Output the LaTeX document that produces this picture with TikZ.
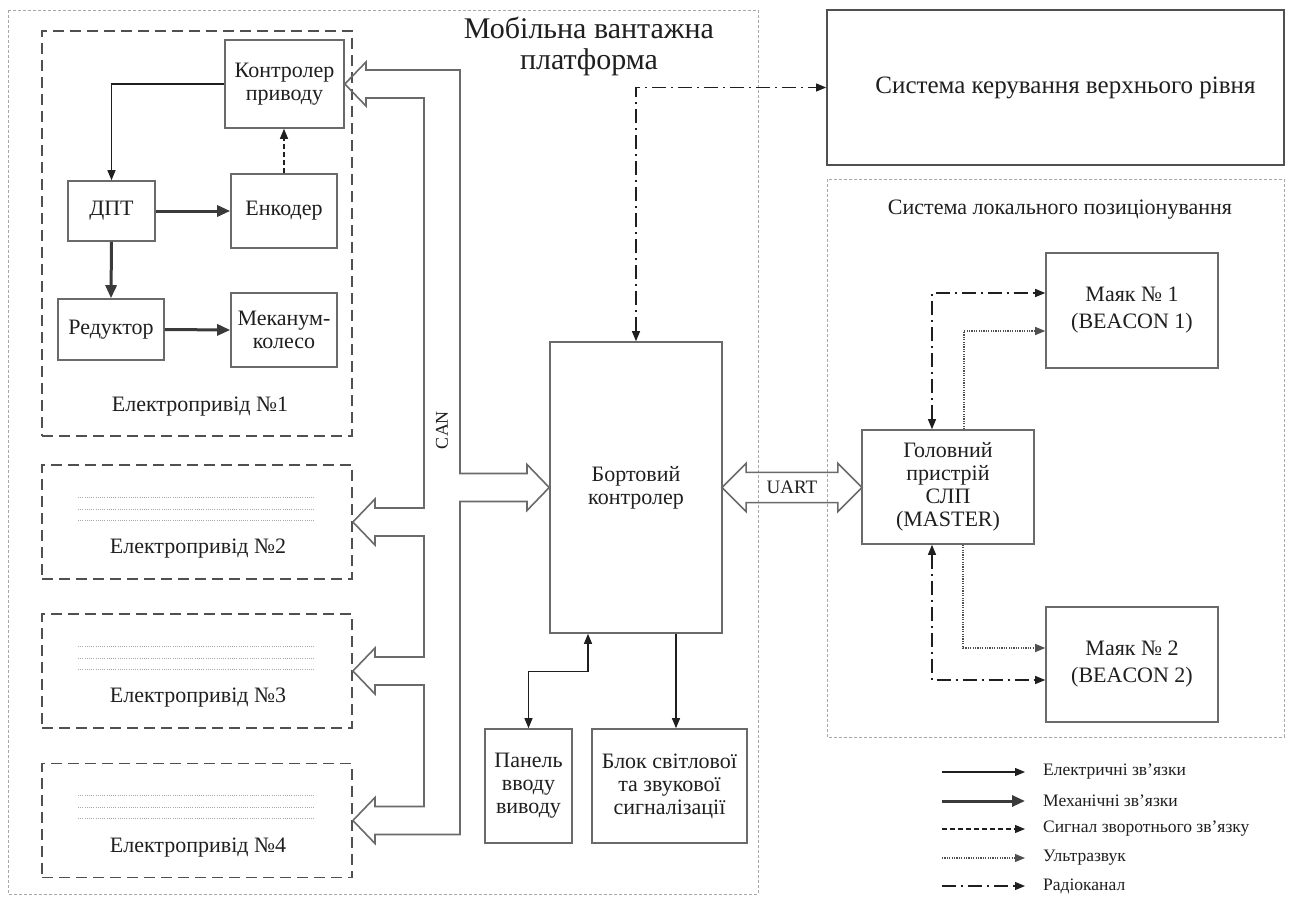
\documentclass[tikz,border=0pt]{standalone}
\usepackage{fontspec}
\setmainfont{Liberation Serif}
\usetikzlibrary{arrows.meta,calc,shapes.arrows}
\definecolor{linegray}{HTML}{505050}
\definecolor{boxgray}{HTML}{6A6A6A}
\definecolor{framegray}{HTML}{A8A8A8}
\definecolor{inkgray}{HTML}{1F1F1F}
\definecolor{mechgray}{HTML}{3A3A3A}

\begin{document}
\begin{tikzpicture}[
  x=1pt, y=-1pt,
  font=\fontsize{22}{23}\selectfont, text=inkgray,
  >={Triangle[length=10pt,width=8pt]},
  box/.style={draw=boxgray, line width=1.6pt, fill=white, inner sep=2pt, align=center},
  drivebox/.style={draw=linegray, line width=1.8pt, dash pattern=on 11pt off 6pt, minimum width=310pt},
  frame/.style={draw=framegray, line width=0.9pt, dash pattern=on 3pt off 2pt},
  filler/.style={draw=framegray, line width=0.9pt, dash pattern=on 1pt off 1.2pt},
  elec/.style={->, line width=1.1pt, draw=inkgray},
  mech/.style={-{Triangle[length=13pt,width=11pt]}, line width=3pt, draw=mechgray},
  fback/.style={elec, dash pattern=on 5pt off 3pt},
  ultra/.style={elec, draw=linegray, line width=1.1pt, dash pattern=on 1.2pt off 1.2pt},
  radio/.style={elec, dash pattern=on 14pt off 5pt on 2pt off 5pt},
  bus/.style={draw=boxgray, line width=1.6pt, line join=miter},
  legend/.style={font=\fontsize{17.5}{19}\selectfont, anchor=west, inner sep=0pt}
]
\useasboundingbox[fill=white] (0,0) rectangle (1291,899);

% outer frames
\draw[frame] (8,10) rectangle (758,894);
\draw[frame] (827,179) rectangle (1284,737);
\node[font=\fontsize{30}{31}\selectfont, align=center] (platform) at (589,46) {Мобільна вантажна\\платформа};

% electric drive 1
\node[drivebox, minimum height=405pt] (drv1) at (197,233.5) {};
\node[box, minimum width=119pt, minimum height=88pt] (ctrl) at (284.5,84) {Контролер\\приводу};
\node[box, minimum width=87pt, minimum height=60pt] (dpt) at (111.5,211) {ДПТ};
\node[box, minimum width=106pt, minimum height=74pt] (enc) at (284,211) {Енкодер};
\node[box, minimum width=106pt, minimum height=61pt] (red) at (111,329.5) {Редуктор};
\node[box, minimum width=106pt, minimum height=74pt] (wheel) at (284,330) {Меканум-\\колесо};
\node (lbl1) at (200,407) {Електропривід №1};

% electric drives 2-4
\foreach \n/\yc in {2/522, 3/671, 4/820.5} {
  \node[drivebox, minimum height=114pt] (drv\n) at (197,\yc) {};
  \foreach \dy in {-25,-13,-2}
    \draw[filler] (78,\yc+\dy) -- (315,\yc+\dy);
  \node (lbl\n) at (198,\yc+27) {Електропривід №\n};
}

% on-board part
\node[box, minimum width=172pt, minimum height=291pt] (bort) at (636,487.5) {Бортовий\\контролер};
\node[box, minimum width=87pt, minimum height=114pt] (panel) at (528.5,786) {Панель\\вводу\\виводу};
\node[box, minimum width=155pt, minimum height=114pt] (signal) at (669.5,786) {Блок світлової\\та звукової\\сигналізації};

% upper level and positioning system
\node[box, draw=linegray, line width=1.8pt, minimum width=457pt, minimum height=155pt, font=\fontsize{25}{28}\selectfont] (top) at (1055.5,87.5) {\hspace*{20pt}Система керування верхнього рівня};
\node (lpstitle) at (1060,210) {Система локального позиціонування};
\node[box, minimum width=172pt, minimum height=114pt] (master) at (948,487) {Головний\\пристрій\\СЛП\\(MASTER)};
\node[box, minimum width=172pt, minimum height=115pt] (b1) at (1132,310.5) {Маяк № 1\\[4pt](BEACON 1)};
\node[box, minimum width=172pt, minimum height=115pt] (b2) at (1132,664.5) {Маяк № 2\\[4pt](BEACON 2)};

% CAN bus
\draw[bus] (ctrl.east) -- (366,62) -- (366,70) -- (460,70) -- (460,473.5) -- (527,473.5) -- (527,464.5)
  -- (bort.west) -- (527,510.5) -- (527,501.5) -- (460,501.5) -- (460,834.5) -- (375,834.5) -- (375,843.5)
  -- (drv4.east) -- (375,797.5) -- (375,806.5) -- (424,806.5) -- (424,685) -- (375,685) -- (375,694)
  -- (drv3.east) -- (375,648) -- (375,657) -- (424,657) -- (424,536) -- (375,536) -- (375,545)
  -- (drv2.east) -- (375,499) -- (375,508) -- (424,508) -- (424,98) -- (366,98) -- (366,106) -- cycle;
\node[rotate=90, font=\fontsize{18}{20}\selectfont] (can) at (442,430) {CAN};

% UART link
\node[double arrow, draw=boxgray, line width=1.6pt, double arrow head extend=9pt,
  minimum width=47pt, minimum height=140pt, inner xsep=1pt, inner ysep=8pt,
  font=\fontsize{19}{20}\selectfont] (uart) at (792,487.5) {UART};

% links inside drive 1
\draw[elec] (ctrl.west) -| (dpt.north);
\draw[fback] (enc.north) -- (enc.north |- ctrl.south);
\draw[mech] (dpt.east) -- (enc.west);
\draw[mech] (dpt.south) -- (red.north);
\draw[mech] (red.east) -- (wheel.west);

% links of the on-board controller
\draw[radio,<->] (bort.north) |- (top.west);
\draw[elec,<->] ([xshift=-48pt]bort.south) -- ++(0,38) -| (panel.north);
\draw[elec] ([xshift=40pt]bort.south) -- ([xshift=40pt]bort.south |- signal.north);

% links of the positioning system
\draw[radio,<->] ([xshift=-16pt]master.north) |- ($(b1.west)+(0,-17.5)$);
\draw[ultra] ([xshift=16pt]master.north) |- ($(b1.west)+(0,20.5)$);
\draw[ultra] ([xshift=15pt]master.south) |- ($(b2.west)+(0,-16.5)$);
\draw[radio,<->] ([xshift=-16pt]master.south) |- ($(b2.west)+(0,15.5)$);

% legend
\foreach \y/\sty/\txt [count=\i] in {772/elec/Електричні зв’язки, 801/mech/Механічні зв’язки,
    829/fback/Сигнал зворотнього зв’язку, 858/ultra/Ультразвук, 886/radio/Радіоканал} {
  \coordinate (keyend\i) at (942,\y);
  \node[legend] (key\i) at (1043,\y) {\txt};
  \draw[\sty] (keyend\i) -- ($(key\i.west)+(-18,0)$);
}
\end{tikzpicture}
\end{document}
